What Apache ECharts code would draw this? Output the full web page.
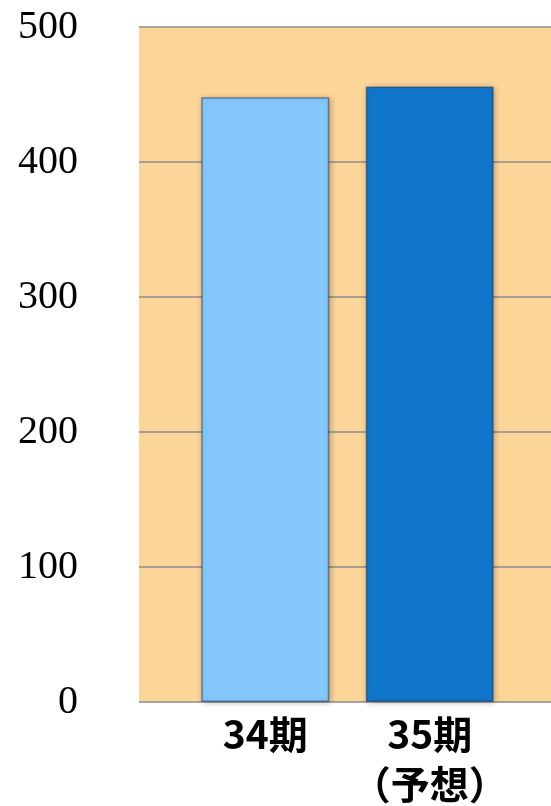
<!DOCTYPE html>
<html><head><meta charset="utf-8">
<script src="https://cdn.jsdelivr.net/npm/echarts@6/dist/echarts.min.js"></script>
<style>html,body{margin:0;padding:0;background:#fff}#c{width:551px;height:806px}</style>
</head><body><div id="c"></div>
<script>
const categories = ['34期', '35期\n（予想）'];
const values = [448, 456];
const barColors = ['#85C8FC', '#1177CC'];
const yTicks = [0, 100, 200, 300, 400, 500];

const chart = echarts.init(document.getElementById('c'));
chart.setOption({
  animation: false,
  grid: [
    {left: 139, right: 0, top: 27, bottom: 104, show: true, backgroundColor: '#FCD599', borderWidth: 0, outerBoundsMode: 'none', containLabel: false},
    {left: 183, right: 39, top: 27, bottom: 104, outerBoundsMode: 'none', containLabel: false}
  ],
  xAxis: [
    {gridIndex: 0, type: 'value', show: false, min: 0, max: 1},
    {gridIndex: 1, type: 'category', data: categories,
     axisLine: {show: false}, axisTick: {show: false},
     axisLabel: {interval: 0, color: '#000', fontFamily: 'Noto Sans CJK JP', fontWeight: 'bold', fontSize: 39, lineHeight: 50, margin: 7}}
  ],
  yAxis: [
    {gridIndex: 0, type: 'value', min: 0, max: 500, interval: 100,
     axisLine: {show: false}, axisTick: {show: false},
     splitLine: {show: true, lineStyle: {color: '#8C8C8C', width: 1.5}},
     axisLabel: {color: '#000', fontFamily: 'Liberation Serif', fontSize: 40, margin: 61,
       formatter: v => yTicks.includes(v) ? String(v) : ''}},
    {gridIndex: 1, type: 'value', min: 0, max: 500, show: false}
  ],
  series: [{
    type: 'bar', xAxisIndex: 1, yAxisIndex: 1, barWidth: 128,
    data: values.map((v, i) => ({value: v, itemStyle: {color: barColors[i]}})),
    itemStyle: {borderColor: 'rgba(0,40,90,0.45)', borderWidth: 1.5,
      shadowColor: 'rgba(0,0,0,0.3)', shadowBlur: 6, shadowOffsetX: 1, shadowOffsetY: 1}
  }]
});
</script></body></html>
